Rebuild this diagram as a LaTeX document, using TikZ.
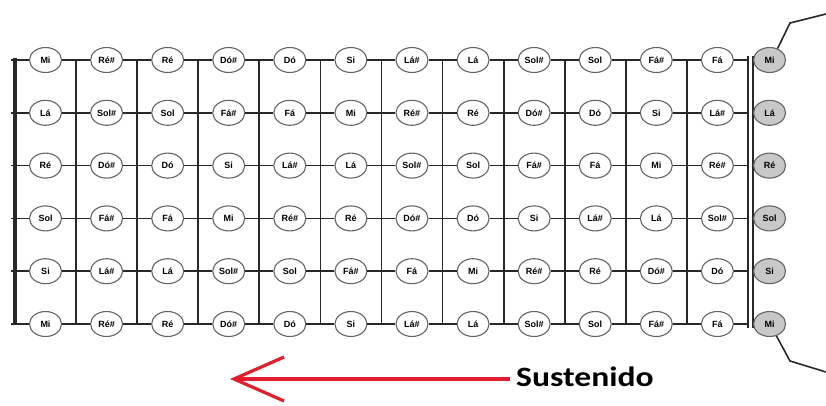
\documentclass[tikz,border=0pt]{standalone}
\usepackage{fontspec}
\usepackage{graphicx}
\usetikzlibrary{arrows.meta, shapes, positioning}
\newfontfamily\notefont{Liberation Sans}
\newfontfamily\captionfont{Carlito}
\definecolor{fretgray}{RGB}{40,40,40}
\definecolor{ringgray}{RGB}{100,100,100}
\definecolor{opengray}{RGB}{200,200,200}
\definecolor{arrowred}{RGB}{225,30,45}

\begin{document}
\begin{tikzpicture}[
        x=1pt, y=-1pt,
        note/.style={ellipse, draw=ringgray, fill=white, line width=1.1pt, minimum width=32pt, minimum height=25pt, inner sep=0pt, font=\notefont\bfseries\fontsize{9}{9}\selectfont},
        opennote/.style={note, fill=opengray},
        string/.style={fretgray, line width=1.6pt},
        fret/.style={fretgray, line width=1.8pt},
        sharparrow/.style={arrowred, line width=3.2pt, -{Straight Barb[length=50pt, width=44pt]}}
    ]
        \useasboundingbox (0,0) rectangle (826,405);
        % Frets
        \draw[fretgray, line width=3.2pt] (15,58) -- (15,325);
        \foreach \k in {1,...,11} {
            \draw[fret] ({15+61.08*\k},60) -- ({15+61.08*\k},324);
        }
        \draw[fret] (748,56) -- (748,328);
        \draw[fret] (753,56) -- (753,328);
        % Notes
        \foreach \row [count=\r] in {
            {Mi,Ré\#,Ré,Dó\#,Dó,Si,Lá\#,Lá,Sol\#,Sol,Fá\#,Fá},
            {Lá,Sol\#,Sol,Fá\#,Fá,Mi,Ré\#,Ré,Dó\#,Dó,Si,Lá\#},
            {Ré,Dó\#,Dó,Si,Lá\#,Lá,Sol\#,Sol,Fá\#,Fá,Mi,Ré\#},
            {Sol,Fá\#,Fá,Mi,Ré\#,Ré,Dó\#,Dó,Si,Lá\#,Lá,Sol\#},
            {Si,Lá\#,Lá,Sol\#,Sol,Fá\#,Fá,Mi,Ré\#,Ré,Dó\#,Dó},
            {Mi,Ré\#,Ré,Dó\#,Dó,Si,Lá\#,Lá,Sol\#,Sol,Fá\#,Fá}} {
            \foreach \n [count=\c] in \row {
                \node[note] (n-\r-\c) at ({45.5+61.08*(\c-1)}, {60+52.8*(\r-1)}) {\n};
            }
        }
        % Open strings
        \foreach \n/\r in {Mi/1, Lá/2, Ré/3, Sol/4, Si/5, Mi/6} {
            \node[opennote, anchor=west] (o-\r) at (753, {60+52.8*(\r-1)}) {\n};
        }
        % Strings
        \foreach \r in {1,...,6} {
            \coordinate (nut-\r) at (11, {60+52.8*(\r-1)});
            \coordinate (bar-\r) at (748, {60+52.8*(\r-1)});
            \draw[string] (nut-\r) -- (n-\r-1);
            \foreach \c [evaluate=\c as \d using int(\c+1)] in {1,...,11} {
                \draw[string] (n-\r-\c) -- (n-\r-\d);
            }
            \draw[string] (n-\r-12) -- (bar-\r);
        }
        % Leaders
        \coordinate (top-bend) at (790,23);
        \coordinate (top-end) at (826,14);
        \draw[string] (o-1.55) -- (top-bend) -- (top-end);
        \coordinate (bot-bend) at (790,361);
        \coordinate (bot-end) at (826,372);
        \draw[string] (o-6.-60) -- (bot-bend) -- (bot-end);
        % Caption
        \node[font=\captionfont\bfseries\fontsize{28}{28}\selectfont, anchor=base west, inner xsep=6pt, inner ysep=0pt] (sust) at (510,386) {\scalebox{1.2}[1]{Sustenido}};
        \coordinate (tip) at (230,379);
        \draw[sharparrow] (sust.west |- tip) -- (tip);
    \end{tikzpicture}
\end{document}
